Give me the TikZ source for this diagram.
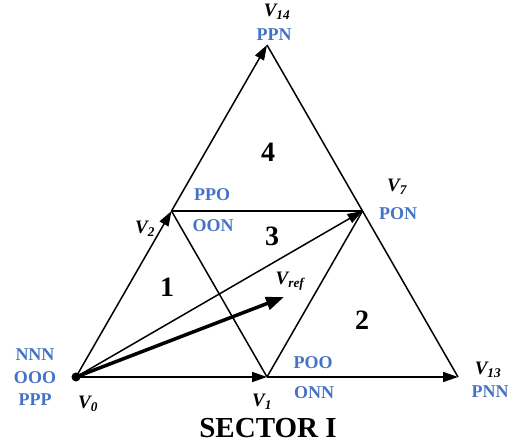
\documentclass[tikz,border=0pt]{standalone}
\usepackage{fontspec}
\setmainfont{Liberation Serif}
\usetikzlibrary{arrows.meta}
\definecolor{lblue}{HTML}{4472C4}
\begin{document}
\begin{tikzpicture}[x=1pt,y=-1pt,
  edge/.style={line width=1.5pt,black},
  arr/.style={edge,-{Triangle[length=15pt,width=10pt]}},
  code/.style={text=lblue,font=\fontsize{18}{20}\selectfont\bfseries,inner sep=0pt},
  vlab/.style={font=\fontsize{19}{21}\selectfont\bfseries\itshape,inner sep=0pt},
  num/.style={font=\fontsize{28}{30}\selectfont\bfseries,inner sep=0pt}]
\useasboundingbox (0,0) rectangle (508,446);
\coordinate (v0) at (76,377);
\coordinate (v1) at (267,377);
\coordinate (v13) at (458,377);
\coordinate (v2) at (171.5,211);
\coordinate (v7) at (362.5,211);
\coordinate (v14) at (267,45);
\coordinate (vr) at (284,297);
% plain lines
\draw[edge] (v2) -- (v7);
\draw[edge] (v2) -- (v1);
\draw[edge] (v1) -- (v7);
\draw[edge] (v14) -- (v7) -- (v13);
% arrows
\draw[arr] (v0) -- (v1);
\draw[arr] (v1) -- (v13);
\draw[arr] (v0) -- (v2);
\draw[arr] (v2) -- (v14);
\draw[arr] (v0) -- (v7);
\draw[line width=3.5pt,-{Triangle[length=18pt,width=13pt]}] (v0) -- (vr);
\fill (v0) circle (4.5pt);
% labels
\node[vlab] (l14) at (277,12) {V\textsubscript{14}};
\node[code] (c14) at (274,35) {PPN};
\node[num] (n4) at (268,152) {4};
\node[vlab] (l7) at (397,187) {V\textsubscript{7}};
\node[code] (c7) at (398,214) {PON};
\node[code] (cppo) at (212,195) {PPO};
\node[code] (coon) at (213,226) {OON};
\node[num] (n3) at (272,236) {3};
\node[vlab] (l2) at (145,229) {V\textsubscript{2}};
\node[num] (n1) at (167,287) {1};
\node[vlab] (lr) at (290,281) {V\textsubscript{ref}};
\node[num] (n2) at (362,320) {2};
\node[code] (c0a) at (35,355) {NNN};
\node[code] (c0b) at (35,378) {OOO};
\node[code] (c0c) at (35,400) {PPP};
\node[vlab] (l0) at (88,404) {V\textsubscript{0}};
\node[vlab] (l1) at (262,402) {V\textsubscript{1}};
\node[code] (cpoo) at (313,363) {POO};
\node[code] (conn) at (314,393) {ONN};
\node[vlab] (l13) at (488,370) {V\textsubscript{13}};
\node[code] (c13) at (490,392) {PNN};
\node[font=\fontsize{29}{31}\selectfont\bfseries,inner sep=0pt] (sec) at (268,428) {SECTOR I};
\end{tikzpicture}
\end{document}
